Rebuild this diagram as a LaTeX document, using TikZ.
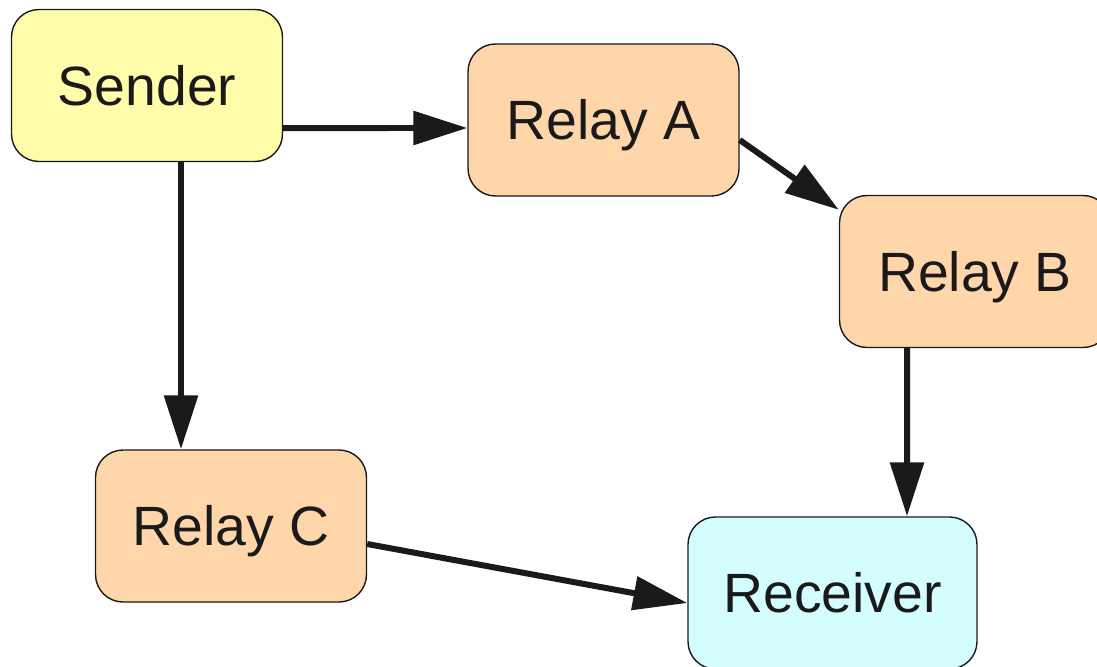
\documentclass[tikz,border=0pt]{standalone}
\usepackage{fontspec}
\setmainfont{Liberation Sans}
\usetikzlibrary{arrows.meta}

\definecolor{inkgray}{HTML}{1A1A1A}
\definecolor{senderfill}{HTML}{FFFCAA}
\definecolor{relayfill}{HTML}{FFD6AA}
\definecolor{receiverfill}{HTML}{D4FEFE}

\begin{document}
\begin{tikzpicture}[
    box/.style={draw=inkgray, line width=0.8pt, rounded corners=0.55cm,
      minimum width=5.42cm, minimum height=3.04cm, inner sep=0pt,
      text height=22.6pt, text depth=0pt,
      text=inkgray, font=\fontsize{31.5}{38}\selectfont},
    edge/.style={draw=inkgray, line width=0.12cm,
      -{Triangle[length=1.08cm, width=0.66cm]}}
  ]
  \useasboundingbox (0,0) rectangle (21.94,-13.34);
  \clip (0,0) rectangle (21.94,-13.34);

  \node[box, fill=senderfill] (sender) at (2.94,-1.71) {Sender};
  \node[box, fill=relayfill] (relayA) at (12.07,-2.40) {Relay A};
  \node[box, fill=relayfill] (relayB) at (19.50,-5.43) {Relay B};
  \node[box, fill=relayfill] (relayC) at (4.62,-10.52) {Relay C};
  \node[box, fill=receiverfill, minimum width=5.78cm] (receiver) at (16.65,-11.86) {Receiver};

  \draw[edge] ([yshift=-0.85cm]sender.east) -- ([yshift=-0.16cm]relayA.west);
  \draw[edge] ([xshift=0.68cm]sender.south) -- ([xshift=-1cm]relayC.north);
  \draw[edge] ([yshift=-0.40cm]relayA.east) -- ([yshift=-0.30cm]relayB.north west);
  \draw[edge] ([xshift=-1.36cm]relayB.south) -- ([xshift=1.49cm]receiver.north);
  \draw[edge] ([yshift=-0.36cm]relayC.east) -- ([yshift=-0.20cm]receiver.west);
\end{tikzpicture}
\end{document}
